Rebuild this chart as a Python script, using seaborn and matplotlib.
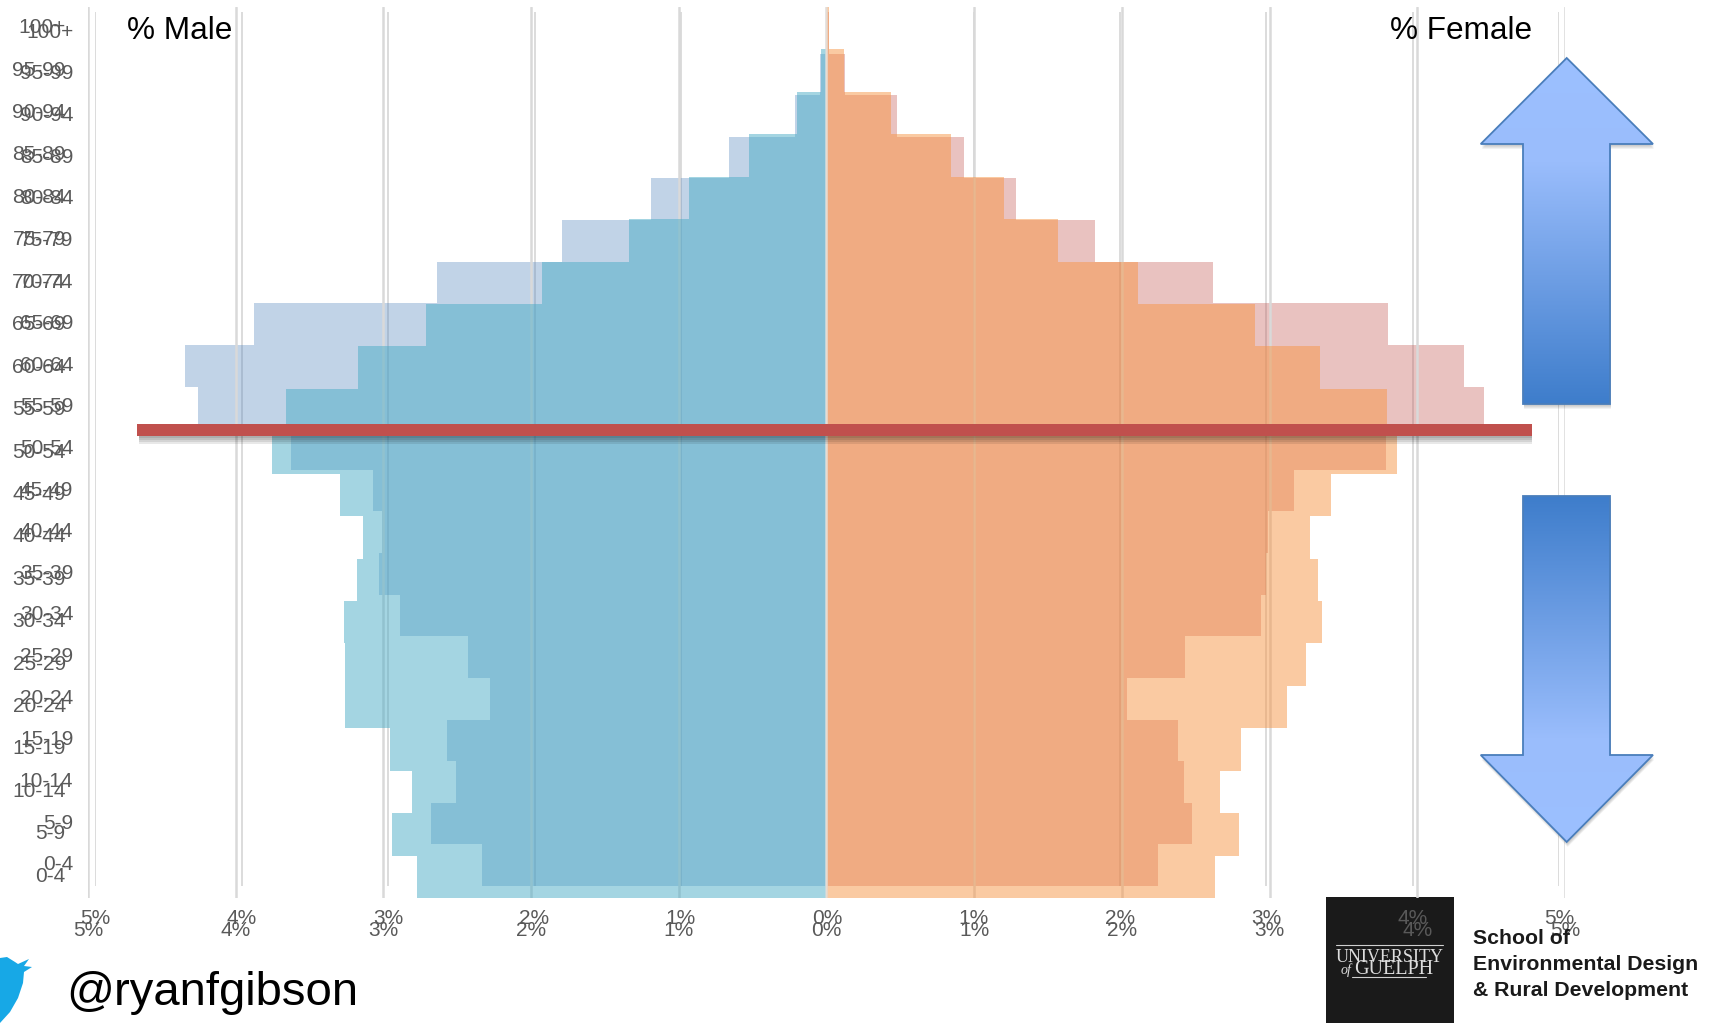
import numpy as np
import matplotlib
matplotlib.use("Agg")
import matplotlib.pyplot as plt
import seaborn as sns
from matplotlib.colors import LinearSegmentedColormap
from matplotlib.patches import Polygon, Rectangle
from matplotlib.transforms import ScaledTranslation

sns.set_theme(style="white")
plt.rcParams['font.family'] = ['Liberation Sans', 'DejaVu Sans']

# age groups, top of the pyramid first
ages = ['100+', '95-99', '90-94', '85-89', '80-84', '75-79', '70-74', '65-69', '60-64', '55-59', '50-54',
        '45-49', '40-44', '35-39', '30-34', '25-29', '20-24', '15-19', '10-14', '5-9', '0-4']

# first chart (long gridlines, aqua / light orange), sits on top
male_a = [0.003, 0.038, 0.197, 0.528, 0.929, 1.338, 1.928, 2.711, 3.172, 3.657, 3.753,
          3.294, 3.141, 3.182, 3.265, 3.258, 3.258, 2.957, 2.804, 2.944, 2.771]
female_a = [0.015, 0.118, 0.437, 0.842, 1.202, 1.569, 2.111, 2.898, 3.342, 3.795, 3.862,
            3.417, 3.272, 3.326, 3.357, 3.246, 3.121, 2.805, 2.663, 2.792, 2.629]

# second chart, underneath (blue grey / pink)
male_b = [0.003, 0.048, 0.218, 0.668, 1.206, 1.813, 2.668, 3.918, 4.388, 4.300, 3.664,
          3.102, 3.042, 3.060, 2.916, 2.453, 2.307, 2.595, 2.540, 2.705, 2.357]
female_b = [0.015, 0.123, 0.475, 0.935, 1.292, 1.830, 2.636, 3.830, 4.350, 4.488, 3.817,
            3.187, 3.015, 3.000, 2.962, 2.444, 2.047, 2.400, 2.436, 2.489, 2.261]

x_ticks = [-5, -4, -3, -2, -1, 0, 1, 2, 3, 4, 5]
x_labels = ['5%', '4%', '3%', '2%', '1%', '0%', '1%', '2%', '3%', '4%', '5%']

W, H = 1715, 1023
GREY = '#595959'


def px_axes(left, right, top, bottom, z):
    ax = fig.add_axes([left / W, 1 - bottom / H, (right - left) / W, (bottom - top) / H], zorder=z)
    ax.set_facecolor('none')
    return ax


def pyramid(ax, male, female, c_male, c_female, alpha, grid_lw):
    ax.set_axisbelow(True)
    sns.barplot(x=-np.array(male), y=ages, color=c_male, alpha=alpha, width=1, saturation=1,
                linewidth=0, antialiased=False, ax=ax)
    sns.barplot(x=female, y=ages, color=c_female, alpha=alpha, width=1, saturation=1,
                linewidth=0, antialiased=False, ax=ax)
    ax.set_xlim(-5, 5)
    ax.set_xticks(x_ticks)
    ax.set_xticklabels(x_labels)
    ax.grid(axis='x', color='#d9d9d9', lw=grid_lw)
    ax.grid(axis='y', visible=False)
    ax.set_xlabel('')
    ax.set_ylabel('')
    ax.tick_params(axis='y', length=0, pad=16, labelsize=15, labelcolor=GREY)
    ax.tick_params(axis='x', length=0, pad=16.5, labelsize=15, labelcolor=GREY)
    # labels sit a little above the band centres
    up = ScaledTranslation(0, 1.8 / 72, fig.dpi_scale_trans)
    for lab in ax.get_yticklabels():
        lab.set_transform(lab.get_transform() + up)
    sns.despine(ax=ax, left=True, bottom=True)


fig = plt.figure(figsize=(W / 100, H / 100), dpi=100, facecolor='white')

# black logo block sits under the tick labels
back = fig.add_axes([0, 0, 1, 1], zorder=0)
back.set_xlim(0, W)
back.set_ylim(H, 0)
back.axis('off')
back.add_patch(Rectangle((1326, 897), 128, 126, color='#1a1a1a', lw=0))

ax2 = px_axes(95.5, 1559, 12, 886, 1)
pyramid(ax2, male_b, female_b, '#4F81BD', '#C0504D', 0.35, 1.3)

ax1 = px_axes(88, 1565, 7, 898, 2)
pyramid(ax1, male_a, female_a, '#4BACC6', '#F79646', 0.5, 1.8)
ax1.axvline(0, color='#e8e8e8', lw=1.8, alpha=0.75, zorder=5)

# arrows, red line and text in pixel coordinates
top = fig.add_axes([0, 0, 1, 1], zorder=3)
top.set_facecolor('none')
top.axis('off')

cmap = LinearSegmentedColormap.from_list('arrow', [(0, '#9CC0FF'), (0.3, '#9ABDFC'), (1, '#3E7DCB')])


def arrow(points, y0, y1, flip):
    for d in [5, 4, 3, 2]:
        top.add_patch(Polygon([(x + 1, y + d) for x, y in points], color='black', alpha=0.05, lw=0, zorder=2))
    grad = np.linspace(0, 1, 256).reshape(-1, 1)
    if flip:
        grad = grad[::-1]
    xs = [p[0] for p in points]
    im = top.imshow(grad, cmap=cmap, extent=(min(xs), max(xs), y1, y0), aspect='auto', zorder=3)
    edge = Polygon(points, facecolor='none', edgecolor='#4A7EBB', lw=1.3, zorder=4)
    top.add_patch(edge)
    im.set_clip_path(edge)


arrow([(1566.7, 58), (1653, 144), (1610, 144), (1610, 404), (1523, 404), (1523, 144), (1480.7, 144)], 58, 404, False)
arrow([(1523, 496), (1610, 496), (1610, 755), (1653, 755), (1566.7, 842), (1480.7, 755), (1523, 755)], 496, 842, True)

for d in [9, 7, 5, 3]:
    top.add_patch(Rectangle((139, 427 + d), 1393, 8, color='black', alpha=0.09, lw=0, zorder=5))
top.add_patch(Rectangle((137, 424), 1395, 11.5, color='#C0504D', lw=0, zorder=6))

top.text(127, 31, '% Male', fontsize=22.7, color='black', va='center', ha='left')
top.text(1390, 31, '% Female', fontsize=22.7, color='black', va='center', ha='left')
top.text(66, 993, '@ryanfgibson', fontsize=34, color='black', va='center', ha='left')

bird = [(0, 958), (7, 957), (15, 962), (18, 964), (29, 959), (24, 966), (32, 967), (24, 972),
        (23, 983), (18, 998), (10, 1012), (0, 1023)]
top.add_patch(Polygon(bird, color='#17A8E6', lw=0, zorder=3))

top.plot([1336, 1443], [945, 945], color='#cfcfcf', lw=0.8, zorder=7)
top.plot([1352, 1426], [977, 977], color='#cfcfcf', lw=0.8, zorder=7)
top.text(1390, 957, 'UNIVERSITY', family='Liberation Serif', fontsize=13, color='#dddddd',
         ha='center', va='center', zorder=7)
top.text(1346, 970, 'of', family='Liberation Serif', style='italic', fontsize=10, color='#dddddd',
         ha='center', va='center', zorder=7)
top.text(1394, 970, 'GUELPH', family='Liberation Serif', fontsize=14.5, color='#dddddd',
         ha='center', va='center', zorder=7)

for y, line in zip([939, 964, 990], ['School of', 'Environmental Design', '& Rural Development']):
    top.text(1473, y, line, fontsize=15.3, fontweight='bold', color='#1a1a1a', ha='left', va='center', zorder=7)

top.set_xlim(0, W)
top.set_ylim(H, 0)

fig.savefig('out.png', dpi=100, facecolor='white')
